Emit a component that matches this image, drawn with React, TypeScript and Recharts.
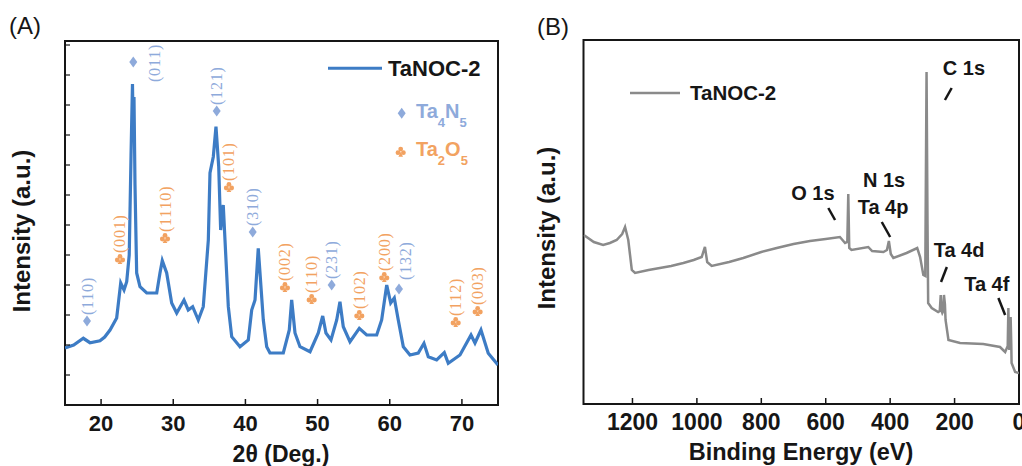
import React from 'react';
import { LineChart, Line, XAxis, YAxis, ReferenceArea, ReferenceDot, ReferenceLine, Legend, Label } from 'recharts';

const FONT = '"Liberation Sans", Arial, Helvetica, sans-serif';
const SERIF = '"Liberation Serif", "Times New Roman", serif';
const BLUE = '#3d7cc5';
const GRAY = '#8a8a8a';
const N_COLOR = '#8eaadb';
const O_COLOR = '#f2a261';
const INK = '#161616';

// ---------- Panel A: XRD ----------
const xrdTheta = [15.0, 16.2, 17.54, 18.46, 19.85, 20.5, 21.24, 22.16, 22.72, 23.18, 23.55, 23.9, 24.15, 24.35, 24.45, 24.56, 24.7, 24.93, 25.39, 26.32, 27.71, 28.16, 28.48, 29.09, 29.78, 30.48, 31.49, 32.08, 32.69, 33.47, 34.16, 34.86, 35.09, 35.55, 35.92, 36.3, 36.57, 36.93, 37.17, 37.63, 38.1, 39.25, 40.4, 40.87, 41.33, 41.78, 42.48, 42.95, 43.4, 45.25, 46.08, 46.41, 46.87, 47.56, 48.95, 50.1, 50.71, 51.16, 51.86, 52.65, 53.1, 53.56, 54.49, 55.78, 56.8, 58.19, 58.88, 59.58, 60.13, 60.63, 61.18, 61.88, 62.8, 63.95, 64.74, 65.34, 66.5, 67.56, 68.11, 69.73, 71.26, 71.81, 72.64, 73.65, 75.0];
const xrdIntensity = [57, 60, 66.7, 62.3, 64.3, 68, 75, 87, 122, 115, 123.3, 150, 250, 321, 275, 308, 220, 132, 118.3, 112, 112, 132, 144.3, 132, 102, 92, 105, 95, 98.3, 85, 98.3, 165, 232, 248.3, 278.3, 238.3, 175, 200, 165, 98.3, 68.3, 58.3, 65, 95, 105, 156.7, 85, 58.3, 52, 52, 75, 105, 72, 58.3, 53.3, 72, 89, 72, 65, 85, 103.3, 78.3, 63.3, 76.7, 70, 70, 85, 120, 102, 107, 85, 58.3, 50, 52, 61.7, 48.3, 45, 52.3, 41.7, 50, 70, 62, 75, 51.7, 40];
const xrdTicks = [20, 30, 40, 50, 60, 70];
const xrdYTicks = [30, 60, 90, 120, 150, 180, 210, 240, 270, 300, 330, 360];

const peakLabels = ['(110)', '(001)', '(011)', '(1110)', '(121)', '(101)', '(310)', '(002)', '(110)', '(231)', '(102)', '(200)', '(132)', '(112)', '(003)'];
const peakPhase = ['N', 'O', 'N', 'O', 'N', 'O', 'N', 'O', 'O', 'N', 'O', 'O', 'N', 'O', 'O'];
const peakTheta = [18.05, 22.62, 24.46, 28.86, 36.02, 37.72, 41.01, 45.48, 49.18, 51.95, 55.78, 59.24, 61.28, 69.14, 72.18];
const peakHeight = [84, 146, 343, 167, 294, 218, 173, 118, 106, 120, 90, 128, 116, 83, 94];
// label placement relative to marker (pixels)
const labelShift: Record<number, [number, number]> = { 2: [21, 20], 12: [7, -9] };

// ---------- Panel B: XPS ----------
const bindingEnergy = [1351, 1320, 1291, 1270, 1249, 1232, 1223, 1213, 1202, 1192, 1150, 1115, 1080, 1042, 1010, 985, 975, 968, 954, 900, 856, 800, 752, 700, 649, 600, 556, 540, 533, 530, 527, 520, 468, 456, 421, 410, 404, 398, 390, 349, 316, 307, 297, 291, 287, 284, 282, 271, 251, 246, 243, 240, 238, 235, 233, 230, 228, 219, 183, 111, 59, 43, 35, 33, 31, 30, 27, 26, 24, 23, 12, 0];
const xpsIntensity = [169, 162, 159, 161, 164, 170, 177, 164, 134, 131, 134, 136, 138, 141, 144, 147, 157, 142, 138, 142, 146, 152, 156, 160, 163, 165, 167, 161, 162, 210, 156, 154, 157, 153, 152, 154, 163, 150, 146, 151, 156, 147, 129, 128, 332, 180, 101, 96, 92, 93, 109, 93, 91, 93, 109, 100, 84, 64, 61, 60, 57, 52, 58, 96, 60, 54, 70, 87, 60, 41, 32, 31];
const xpsTicks = [0, 200, 400, 600, 800, 1000, 1200];

const xpsLabelText = ['C 1s', 'O 1s', 'N 1s', 'Ta 4p', 'Ta 4d', 'Ta 4f'];
const xpsLabelE = [171, 640, 419, 422, 186, 100];
const xpsLabelV = [336, 211, 224, 197, 154, 120];
const xpsPointerFrom = [[230, 304], [592, 196], [426, 182], [242, 122], [64, 106]];
const xpsPointerTo = [[209, 316], [571, 184], [400, 167], [224, 137], [43, 89]];

const Marker = ({ cx, cy, phase }: { cx: number; cy: number; phase: string }) =>
  phase === 'N' ? (
    <path d={`M${cx},${cy - 5.5} L${cx + 4},${cy} L${cx},${cy + 5.5} L${cx - 4},${cy} Z`} fill={N_COLOR} />
  ) : (
    <g fill={O_COLOR}>
      <circle cx={cx} cy={cy - 2.6} r={2.4} />
      <circle cx={cx - 2.7} cy={cy + 1} r={2.4} />
      <circle cx={cx + 2.7} cy={cy + 1} r={2.4} />
      <path d={`M${cx},${cy} L${cx - 2.3},${cy + 5} L${cx + 2.3},${cy + 5} Z`} />
    </g>
  );

const LegendA = () => (
  <svg width={180} height={125} style={{ display: 'block' }}>
    <line x1={8} x2={62} y1={23.3} y2={23.3} stroke={BLUE} strokeWidth={3} />
    <text x={68} y={31} fontFamily={FONT} fontWeight={700} fontSize={22} fill={INK}>TaNOC-2</text>
    <Marker cx={81.7} cy={68.3} phase="N" />
    <text x={96} y={72.5} fontFamily={FONT} fontWeight={700} fontSize={20} fill={N_COLOR}>
      Ta<tspan fontSize={13} dy={9}>4</tspan><tspan dy={-9}>N</tspan><tspan fontSize={13} dy={9}>5</tspan>
    </text>
    <Marker cx={80.7} cy={106.7} phase="O" />
    <text x={96} y={111} fontFamily={FONT} fontWeight={700} fontSize={20} fill={O_COLOR}>
      Ta<tspan fontSize={13} dy={9}>2</tspan><tspan dy={-9}>O</tspan><tspan fontSize={13} dy={9}>5</tspan>
    </text>
  </svg>
);

const LegendB = () => (
  <svg width={200} height={30} style={{ display: 'block' }}>
    <line x1={10} x2={60} y1={18} y2={18} stroke={GRAY} strokeWidth={2.5} />
    <text x={70} y={24.5} fontFamily={FONT} fontWeight={700} fontSize={20.5} fill={INK}>TaNOC-2</text>
  </svg>
);

const EmptyTick = () => <g />;

export default function App() {
  const xrdData = xrdTheta.map((t, i) => ({ t, v: xrdIntensity[i] }));
  const xpsData = bindingEnergy.map((e, i) => ({ e, v: xpsIntensity[i] }));
  const tickStyle = (size: number) => ({ fill: INK, fontSize: size, fontWeight: 700, fontFamily: FONT });

  return (
    <div style={{ position: 'absolute', left: 0, top: 0, width: 1022, height: 466, background: '#fff', overflow: 'hidden' }}>
      <div style={{ position: 'absolute', left: 0, top: 0 }}>
        <LineChart width={510} height={466} data={xrdData} margin={{ top: 41, right: 12, bottom: 31, left: 5 }}>
          <XAxis dataKey="t" type="number" domain={[15, 75]} ticks={xrdTicks} interval={0} allowDataOverflow height={30}
            tickSize={-6} tickMargin={16} axisLine={false} tickLine={{ stroke: INK, strokeWidth: 1.5 }} tick={tickStyle(22)}>
            <Label content={() => (
              <text x={281} y={461.5} textAnchor="middle" fontFamily={FONT} fontWeight={700} fontSize={23} fill={INK}>2θ (Deg.)</text>
            )} />
          </XAxis>
          <YAxis type="number" domain={[0, 364]} ticks={xrdYTicks} interval={0} width={60} tick={<EmptyTick />} tickSize={-5}
            axisLine={false} tickLine={{ stroke: INK, strokeWidth: 1.2 }}>
            <Label content={() => (
              <g>
                <text x={30} y={231} transform="rotate(-90 30 231)" textAnchor="middle" fontFamily={FONT} fontWeight={700} fontSize={24} fill={INK}>Intensity (a.u.)</text>
                <text x={9} y={34} fontFamily={FONT} fontSize={24} fill={INK}>(A)</text>
              </g>
            )} />
          </YAxis>
          <ReferenceArea x1={15} x2={75} y1={0} y2={364} fill="none" fillOpacity={0} stroke={INK} strokeWidth={2} ifOverflow="visible" />
          <Line dataKey="v" type="linear" stroke={BLUE} strokeWidth={3.2} dot={false} isAnimationActive={false} />
          {peakLabels.map((lab, i) => {
            const [dx, dy] = labelShift[i] ?? [0, -6];
            const color = peakPhase[i] === 'N' ? N_COLOR : O_COLOR;
            return (
              <ReferenceDot key={i} x={peakTheta[i]} y={peakHeight[i]} ifOverflow="visible"
                shape={(p: any) => {
                  const tx = p.cx + dx;
                  const ty = p.cy + dy;
                  return (
                    <g>
                      <Marker cx={p.cx} cy={p.cy} phase={peakPhase[i]} />
                      <text x={tx} y={ty} transform={`rotate(-90 ${tx} ${ty})`} textAnchor="start" dominantBaseline="central"
                        fontFamily={SERIF} fontSize={16} letterSpacing={0.8} fill={color}>{lab}</text>
                    </g>
                  );
                }} />
            );
          })}
          <Legend layout="horizontal" verticalAlign="middle" align="center" content={() => <LegendA />}
            wrapperStyle={{ position: 'absolute', left: 320, top: 45, width: 180, height: 125, margin: 0, padding: 0 }} />
        </LineChart>
      </div>

      <div style={{ position: 'absolute', left: 510, top: 0 }}>
        <LineChart width={512} height={466} data={xpsData} margin={{ top: 40, right: 3, bottom: 32, left: 13.5 }}>
          <XAxis dataKey="e" type="number" domain={[0, 1352]} reversed ticks={xpsTicks} interval={0} allowDataOverflow height={30}
            tickSize={-6} tickMargin={16} axisLine={false} tickLine={{ stroke: INK, strokeWidth: 1.5 }} tick={tickStyle(23)}>
            <Label content={() => (
              <text x={291} y={460} textAnchor="middle" fontFamily={FONT} fontWeight={700} fontSize={23.5} fill={INK}>Binding Energy (eV)</text>
            )} />
          </XAxis>
          <YAxis type="number" domain={[0, 364]} width={60} tick={false} tickLine={false} axisLine={false}>
            <Label content={() => (
              <g>
                <text x={45} y={228} transform="rotate(-90 45 228)" textAnchor="middle" fontFamily={FONT} fontWeight={700} fontSize={24} fill={INK}>Intensity (a.u.)</text>
                <text x={27} y={35} fontFamily={FONT} fontSize={24} fill={INK}>(B)</text>
              </g>
            )} />
          </YAxis>
          <ReferenceArea x1={0} x2={1352} y1={0} y2={364} fill="none" fillOpacity={0} stroke={INK} strokeWidth={2} ifOverflow="visible" />
          <Line dataKey="v" type="linear" stroke={GRAY} strokeWidth={2.5} dot={false} isAnimationActive={false} />
          {xpsPointerFrom.map((f, i) => (
            <ReferenceLine key={'p' + i} segment={[{ x: f[0], y: f[1] }, { x: xpsPointerTo[i][0], y: xpsPointerTo[i][1] }]}
              stroke={INK} strokeWidth={2.5} ifOverflow="visible" />
          ))}
          {xpsLabelText.map((t, i) => (
            <ReferenceDot key={'l' + i} x={xpsLabelE[i]} y={xpsLabelV[i]} ifOverflow="visible"
              shape={(p: any) => (
                <text x={p.cx} y={p.cy + 7} textAnchor="middle" fontFamily={FONT} fontWeight={700} fontSize={20} fill={INK}>{t}</text>
              )} />
          ))}
          <Legend layout="horizontal" verticalAlign="middle" align="center" content={() => <LegendB />}
            wrapperStyle={{ position: 'absolute', left: 110, top: 75, width: 200, height: 30, margin: 0, padding: 0 }} />
        </LineChart>
      </div>
    </div>
  );
}
